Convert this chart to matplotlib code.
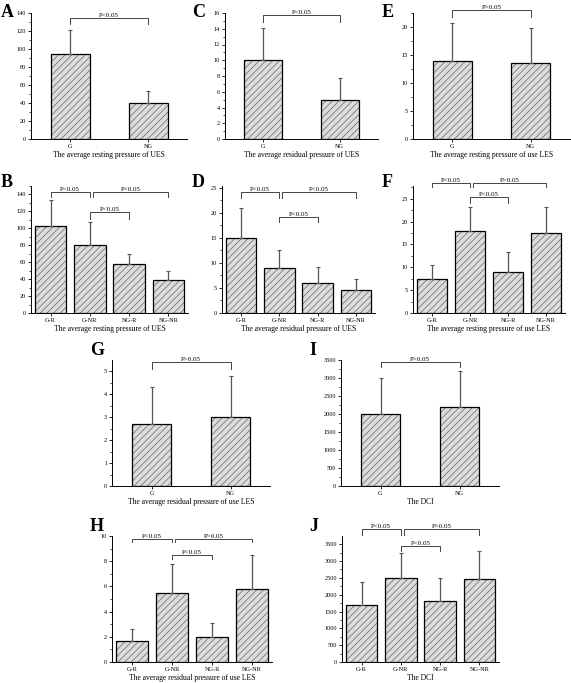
import matplotlib
matplotlib.use('Agg')
import matplotlib.pyplot as plt
from matplotlib.ticker import AutoMinorLocator

plt.rcParams['font.family'] = ['Liberation Serif', 'DejaVu Serif']
plt.rcParams['hatch.linewidth'] = 0.5

W, H = 571, 683

# datos de cada panel
g2 = ['G', 'NG']
g4 = ['G-R', 'G-NR', 'NG-R', 'NG-NR']

a_mean = [95, 40]
a_sd = [26, 13]
c_mean = [10, 5]
c_sd = [4.1, 2.7]
e_mean = [14, 13.6]
e_sd = [6.7, 6.2]
b_mean = [103, 80, 58, 39]
b_sd = [31, 28, 12, 11]
d_mean = [15, 9, 6, 4.5]
d_sd = [6, 3.6, 3.1, 2.2]
f_mean = [7.5, 18, 9, 17.6]
f_sd = [3.1, 5.2, 4.3, 5.6]
gg_mean = [2.7, 3.0]
gg_sd = [1.6, 1.8]
i_mean = [2000, 2200]
i_sd = [1000, 1000]
h_mean = [1.7, 5.5, 2.0, 5.8]
h_sd = [0.9, 2.3, 1.1, 2.7]
j_mean = [1700, 2500, 1800, 2460]
j_sd = [680, 730, 700, 840]

xl_rest_ues = 'The average resting pressure of UES'
xl_resid_ues = 'The average residual pressure of UES'
xl_rest_les = 'The average resting pressure of use LES'
xl_resid_les = 'The average residual pressure of use LES'
xl_dci = 'The DCI'

fig = plt.figure(figsize=(W / 100, H / 100), dpi=100)


def add_ax(left, top, right, bottom):
    return fig.add_axes([left / W, 1 - bottom / H, (right - left) / W, (bottom - top) / H])


def bracket(ax, x1, x2, y, ydrop, text):
    ax.plot([x1, x1, x2, x2], [ydrop, y, y, ydrop], color='#444444', lw=0.7, clip_on=False)
    ax.text((x1 + x2) / 2, y, text, ha='center', va='bottom', fontsize=5, clip_on=False)


def panel(ax, cats, means, sds, ymax, step, xlabel, letter, lpos):
    n = len(cats)
    x = list(range(n))
    width = 0.5 if n == 2 else 0.8
    ax.bar(x, means, width, color='#dcdcdc', edgecolor='#666666', hatch='/////', lw=0)
    ax.bar(x, means, width, fill=False, edgecolor='black', lw=0.9)
    ax.errorbar(x, means, yerr=[[0] * n, sds], fmt='none', ecolor='#555555',
                elinewidth=0.9, capsize=1.5, capthick=0.8)
    ax.set_xlim(-0.5, n - 0.5)
    ax.set_ylim(0, ymax)
    ax.set_yticks([k * step for k in range(int(ymax / step + 1e-9) + 1)])
    ax.yaxis.set_minor_locator(AutoMinorLocator(2))
    ax.set_xticks(x)
    ax.set_xticklabels(cats)
    ax.tick_params(labelsize=4.5, length=2.5, width=0.6, pad=1)
    ax.tick_params(which='minor', length=1.5, width=0.5)
    for s in ['top', 'right']:
        ax.spines[s].set_visible(False)
    for s in ['left', 'bottom']:
        ax.spines[s].set_linewidth(0.7)
    ax.set_xlabel(xlabel, fontsize=5.5, labelpad=1.5)
    fig.text(lpos[0] / W, 1 - lpos[1] / H, letter, fontsize=13, fontweight='bold',
             ha='left', va='top')


# fila 1
ax = add_ax(31, 13, 187, 139)
panel(ax, g2, a_mean, a_sd, 140, 20, xl_rest_ues, 'A', (1, 4))
bracket(ax, 0, 1, 134, 128, 'P<0.05')

ax = add_ax(225, 13, 378, 139)
panel(ax, g2, c_mean, c_sd, 16, 2, xl_resid_ues, 'C', (192, 4))
bracket(ax, 0, 1, 15.7, 14.8, 'P<0.05')

ax = add_ax(413, 13, 570, 139)
panel(ax, g2, e_mean, e_sd, 22.5, 5, xl_rest_les, 'E', (382, 4))
bracket(ax, 0, 1, 23.1, 21.8, 'P>0.05')

# fila 2
ax = add_ax(31, 186, 188, 313)
panel(ax, g4, b_mean, b_sd, 150, 20, xl_rest_ues, 'B', (1, 174))
bracket(ax, 0, 1, 143.5, 137.5, 'P<0.05')
bracket(ax, 1.08, 3, 143.5, 137.5, 'P<0.05')
bracket(ax, 1, 2, 119, 111, 'P<0.05')

ax = add_ax(222, 186, 375, 313)
panel(ax, g4, d_mean, d_sd, 25.3, 5, xl_resid_ues, 'D', (192, 174))
bracket(ax, 0, 1, 24.1, 23, 'P<0.05')
bracket(ax, 1.08, 3, 24.1, 23, 'P<0.05')
bracket(ax, 1, 2, 19.2, 18.2, 'P<0.05')

ax = add_ax(413, 186, 565, 313)
panel(ax, g4, f_mean, f_sd, 27.8, 5, xl_rest_les, 'F', (382, 174))
bracket(ax, 0, 1, 28.5, 27.5, 'P<0.05')
bracket(ax, 1.08, 3, 28.5, 27.5, 'P>0.05')
bracket(ax, 1, 2, 25.3, 24.1, 'P<0.05')

# fila 3
ax = add_ax(112, 360, 270, 486)
panel(ax, g2, gg_mean, gg_sd, 5.48, 1, xl_resid_les, 'G', (90, 342))
bracket(ax, 0, 1, 5.4, 5.1, 'P>0.05')

ax = add_ax(341, 360, 499, 486)
panel(ax, g2, i_mean, i_sd, 3500, 500, xl_dci, 'I', (309, 342))
bracket(ax, 0, 1, 3454, 3315, 'P>0.05')

# fila 4
ax = add_ax(112, 536, 272, 662)
panel(ax, g4, h_mean, h_sd, 10, 2, xl_resid_les, 'H', (90, 518))
bracket(ax, 0, 1, 9.8, 9.5, 'P<0.05')
bracket(ax, 1.08, 3, 9.8, 9.5, 'P>0.05')
bracket(ax, 1, 2, 8.5, 8.15, 'P<0.05')

ax = add_ax(342, 536, 499, 662)
panel(ax, g4, j_mean, j_sd, 3745, 500, xl_dci, 'J', (309, 518))
bracket(ax, 0, 1, 3940, 3774, 'P<0.05')
bracket(ax, 1.08, 3, 3940, 3774, 'P>0.05')
bracket(ax, 1, 2, 3451, 3314, 'P<0.05')

fig.savefig('out.png', dpi=100)
